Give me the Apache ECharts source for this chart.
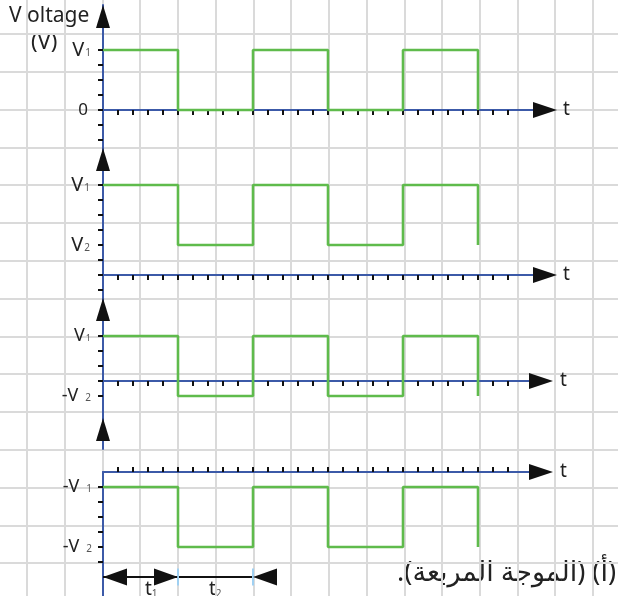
<!DOCTYPE html>
<html><head><meta charset="utf-8">
<script src="https://cdn.jsdelivr.net/npm/echarts@6/dist/echarts.min.js"></script>
<style>html,body{margin:0;padding:0;background:#fff}#c{width:618px;height:596px}</style>
</head><body><div id="c"></div>
<script>
// ---------------- data ----------------
const times = [0, 5, 10, 15, 20, 25];          // switching instants (in tick units)
const wave1 = [4, 0, 4, 0, 4, 0];              // V1 / 0
const wave2 = [6, 2, 6, 2, 6, 2];              // V1 / V2
const wave3 = [3, -1, 3, -1, 3, -1];           // V1 / -V2
const wave4 = [-1, -5, -1, -5, -1, -5];        // -V1 / -V2
const labels1 = ['V|1', '0'];
const labels2 = ['V|1', 'V|2'];
const labels3 = ['V|1', '-V|2'];
const labels4 = ['-V|1', '-V|2'];
const periodLabels = ['1', '2'];               // t1, t2 subscripts
const timeName = 't';
const yTitle = ['V oltage', '(V)'];
const caption = '(أ) (الموجة المربعة).';
const dimLevel = -7;                           // level of t1/t2 dimension line (panel 4 units)

// ---------------- layout ----------------
const FONT = "'Noto Sans', 'DejaVu Sans', sans-serif";
const GREEN = '#5fbb4c', BLUE = '#3c5aa8', BLACK = '#111111', GRIDC = '#dadada';
const UNIT = 15, X0 = 103;
const CELLX = 37.73, CELLY = 37.79;
const panels = [
  {top: 5,   bottom: 148, zeroY: 110, xEnd: 533, wave: wave1, labels: labels1, tickR: [-2, 4], inside: false, fs: 20, margin: 12, gap: 30},
  {top: 148, bottom: 298, zeroY: 275, xEnd: 533, wave: wave2, labels: labels2, tickR: [-1, 6], inside: false, fs: 20, margin: 13, gap: 30},
  {top: 298, bottom: 418, zeroY: 381, xEnd: 529, wave: wave3, labels: labels3, tickR: [-1, 3], inside: false, fs: 18, margin: 12, gap: 31},
  {top: 472, bottom: 596, zeroY: 472, xEnd: 529, wave: wave4, labels: labels4, tickR: [-6, -1], inside: true, fs: 18, margin: 11, gap: 31}
];
const arrowOnly = {top: 418, bottom: 449, xEnd: 529};

function range(a, b) { const r = []; for (let i = a; i <= b; i++) r.push(i); return r; }
function fmtLabel(str) {
  if (str.indexOf('|') >= 0) {
    const p = str.split('|');
    return p[0].charAt(0) === '-' ? '{v|' + p[0] + '}{s2|' + p[1] + '}' : '{v|' + p[0] + '}{s|' + p[1] + '}';
  }
  return '{z|' + str + '}';
}
const arrowStyle = {color: BLACK, opacity: 1};

// background squared paper
const grid = [{left: 27 - CELLX, top: 34 - CELLY, width: CELLX * 17, height: CELLY * 17, outerBoundsMode: 'none', containLabel: false}];
const xAxis = [{gridIndex: 0, type: 'value', min: 0, max: 17, interval: 1,
  axisLine: {show: false}, axisTick: {show: false}, axisLabel: {show: false},
  splitLine: {show: true, lineStyle: {color: GRIDC, width: 2}}}];
const yAxis = [{gridIndex: 0, type: 'value', min: 0, max: 17, interval: 1,
  axisLine: {show: false}, axisTick: {show: false}, axisLabel: {show: false},
  splitLine: {show: true, lineStyle: {color: GRIDC, width: 2}}}];
const series = [];

panels.forEach((p, i) => {
  const gi = i + 1;
  const xMax = (p.xEnd - X0) / UNIT;
  const yMax = (p.zeroY - p.top) / UNIT;
  const yMin = (p.zeroY - p.bottom) / UNIT;
  grid.push({left: X0, top: p.top, width: p.xEnd - X0, height: p.bottom - p.top, outerBoundsMode: 'none', containLabel: false});
  xAxis.push({gridIndex: gi, type: 'value', min: 0, max: xMax,
    axisLine: {show: true, onZero: true, lineStyle: {color: BLUE, width: 2}},
    axisTick: {show: true, customValues: range(1, 27), length: 5, inside: p.inside, lineStyle: {color: BLACK, width: 2}},
    axisLabel: {show: false}, splitLine: {show: false},
    name: timeName, nameLocation: 'end', nameGap: p.gap,
    nameTextStyle: {fontSize: 19, color: '#222', fontFamily: FONT, verticalAlign: 'middle'}});
  const levels = [p.wave[0], p.wave[1]];
  const lmap = {}; levels.forEach((v, k) => { lmap[v] = p.labels[k]; });
  yAxis.push({gridIndex: gi, type: 'value', min: yMin, max: yMax,
    axisLine: {show: true, onZero: true, lineStyle: {color: BLUE, width: 2}},
    axisTick: {show: true, customValues: range(p.tickR[0], p.tickR[1]), length: 5, lineStyle: {color: BLACK, width: 2}},
    axisLabel: {show: true, customValues: levels, margin: p.margin,
      formatter: v => fmtLabel(lmap[v]),
      rich: {
        v: {fontSize: p.fs, color: '#222', fontFamily: FONT},
        s: {fontSize: Math.round(p.fs * 0.5), color: '#555', fontFamily: FONT, verticalAlign: 'bottom', padding: [0, 0, 2, 1]},
        s2: {fontSize: Math.round(p.fs * 0.55), color: '#555', fontFamily: FONT, verticalAlign: 'bottom', padding: [0, 0, 2, 7]},
        z: {fontSize: 17, color: '#222', fontFamily: FONT, padding: [0, 3, 0, 0]}
      }},
    splitLine: {show: false}});
  // wave
  series.push({type: 'line', xAxisIndex: gi, yAxisIndex: gi, step: 'end', symbol: 'none', z: 4,
    data: times.map((t, k) => [t, p.wave[k]]), lineStyle: {color: GREEN, width: 2.6}, silent: true});
  // x-axis arrow
  series.push({type: 'scatter', xAxisIndex: gi, yAxisIndex: gi, clip: false, z: 6, silent: true,
    symbol: 'triangle', symbolSize: [16, 24], symbolRotate: -90, symbolOffset: [12, 0],
    itemStyle: arrowStyle, data: [[xMax, 0]]});
  // y-axis arrow (panel 4 arrow lives in its own short axis segment)
  if (i < 3) {
    series.push({type: 'scatter', xAxisIndex: gi, yAxisIndex: gi, clip: false, z: 6, silent: true,
      symbol: 'triangle', symbolSize: [14, 23], symbolOffset: [0, 11.5],
      itemStyle: arrowStyle, data: [[0, yMax]]});
  }
});

// short y-axis segment carrying the 4th panel's arrow
const ga = grid.length;
grid.push({left: X0, top: arrowOnly.top, width: arrowOnly.xEnd - X0, height: arrowOnly.bottom - arrowOnly.top, outerBoundsMode: 'none', containLabel: false});
xAxis.push({gridIndex: ga, type: 'value', min: 0, max: 1, show: false});
yAxis.push({gridIndex: ga, type: 'value', min: 0, max: 1,
  axisLine: {show: true, lineStyle: {color: BLUE, width: 2}}, axisTick: {show: false}, axisLabel: {show: false}, splitLine: {show: false}});
series.push({type: 'scatter', xAxisIndex: ga, yAxisIndex: ga, clip: false, z: 6, silent: true,
  symbol: 'triangle', symbolSize: [14, 23], symbolOffset: [0, 11.5], itemStyle: arrowStyle, data: [[0, 1]]});

// t1 / t2 dimension line on panel 4
const g4 = 4;
series.push({type: 'line', xAxisIndex: g4, yAxisIndex: g4, symbol: 'none', z: 4, silent: true,
  data: [[times[0], dimLevel], [times[2], dimLevel]], lineStyle: {color: BLACK, width: 2}});
series.push({type: 'scatter', xAxisIndex: g4, yAxisIndex: g4, clip: false, z: 5, silent: true,
  symbol: 'rect', symbolSize: [2, 17], itemStyle: {color: '#9fd0f2', opacity: 1},
  data: [[times[1], dimLevel], [times[2], dimLevel]]});
series.push({type: 'scatter', xAxisIndex: g4, yAxisIndex: g4, clip: false, z: 6, silent: true,
  symbol: 'triangle', symbolSize: [17, 24], itemStyle: arrowStyle,
  data: [
    {value: [times[0], dimLevel], symbolRotate: 90, symbolOffset: [12, 0]},
    {value: [times[1], dimLevel], symbolRotate: -90, symbolOffset: [-12, 0]},
    {value: [times[2], dimLevel], symbolRotate: 90, symbolOffset: [12, 0]}
  ]});

const option = {
  animation: false,
  backgroundColor: '#ffffff',
  grid, xAxis, yAxis, series,
  graphic: [
    {type: 'text', left: 9, top: 6, style: {text: yTitle[0], font: '21px ' + FONT, fill: '#222'}},
    {type: 'text', left: 31, top: 32, style: {text: yTitle[1], font: '22px ' + FONT, fill: '#222'}},
    {type: 'text', left: 145, top: 580, style: {text: '{t|t}{s|' + periodLabels[0] + '}',
      rich: {t: {fontSize: 19, fontFamily: FONT, fill: '#222'}, s: {fontSize: 10, fontFamily: FONT, fill: '#555', verticalAlign: 'bottom'}}}},
    {type: 'text', left: 209, top: 580, style: {text: '{t|t}{s|' + periodLabels[1] + '}',
      rich: {t: {fontSize: 19, fontFamily: FONT, fill: '#222'}, s: {fontSize: 10, fontFamily: FONT, fill: '#555', verticalAlign: 'bottom'}}}},
    {type: 'text', right: 2, top: 560, style: {text: '\u200F' + caption + '\u200F', font: '27px ' + FONT, fill: '#222'}}
  ]
};
const chart = echarts.init(document.getElementById('c'), null, {renderer: 'canvas'});
chart.setOption(option);
</script></body></html>
